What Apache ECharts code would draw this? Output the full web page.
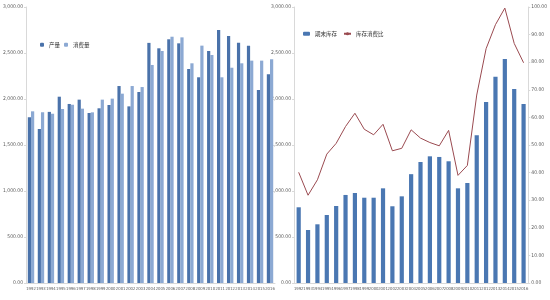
<!DOCTYPE html>
<html><head><meta charset="utf-8">
<script src="https://cdn.jsdelivr.net/npm/echarts@6/dist/echarts.min.js"></script>
<style>html,body{margin:0;padding:0;background:#fff}#c{width:550px;height:300px}</style>
</head><body><div id="c"></div>
<script>
var years = ['1992','1993','1994','1995','1996','1997','1998','1999','2000','2001','2002','2003','2004','2005','2006','2007','2008','2009','2010','2011','2012','2013','2014','2015','2016'];
var production = [1801,1674,1860,2025,1946,1993,1848,1899,1935,2141,1920,2076,2610,2551,2649,2605,2326,2236,2522,2750,2685,2612,2580,2098,2269];
var consumption = [1866,1857,1840,1891,1938,1895,1855,1993,2004,2058,2141,2130,2370,2522,2677,2670,2388,2580,2478,2236,2340,2388,2417,2417,2432];
var endingStock = [823,576,638,739,837,957,978,927,927,1029,834,942,1183,1315,1377,1370,1323,1029,1087,1605,1967,2243,2435,2109,1946];
var stockRatio = [40.1,31.8,37.4,46.7,50.6,56.7,61.5,55.7,53.7,57.5,47.9,48.8,55.5,52.5,50.9,49.7,55.3,39.0,42.6,68.1,84.9,93.6,99.6,86.8,79.8];
var leftNames = ['产量','消费量'];
var rightNames = ['期末库存','库存消费比'];

var chart = echarts.init(document.getElementById('c'), null, {renderer:'canvas'});
var fmt2 = function(v){ return v.toLocaleString('en-US',{minimumFractionDigits:2,maximumFractionDigits:2}); };
var narrow = '"Liberation Sans Narrow", "DejaVu Sans Condensed", "Liberation Sans"';
var axisLab = {fontSize:5, color:'#595959', fontFamily:narrow};
var xCommon = {
  type:'category', data:years,
  axisLine:{lineStyle:{color:'#d9d9d9',width:1}},
  axisTick:{show:false},
  axisLabel:{interval:0, fontSize:4.2, color:'#595959', margin:4, fontFamily:narrow}
};
chart.setOption({
  animation:false,
  legend:[
    {data:leftNames, left:35, top:37, itemWidth:4, itemHeight:4, itemGap:4,
     textStyle:{fontSize:5.5, color:'#333', fontFamily:'Noto Sans CJK SC'}},
    {data:rightNames, left:298, top:26, itemWidth:7, itemHeight:4, itemGap:6,
     textStyle:{fontSize:5.5, color:'#333', fontFamily:'Noto Sans CJK SC'}}
  ],
  grid:[
    {left:21, right:275, top:7, bottom:17},
    {left:294, right:13, top:7, bottom:17}
  ],
  xAxis:[
    Object.assign({gridIndex:0}, xCommon),
    Object.assign({gridIndex:1}, xCommon)
  ],
  yAxis:[
    {gridIndex:0, type:'value', min:0, max:3000, interval:500,
     axisLine:{show:true, lineStyle:{color:'#d9d9d9'}}, axisTick:{show:true,length:2,lineStyle:{color:'#d9d9d9'}},
     splitLine:{show:false}, axisLabel:Object.assign({margin:3, formatter:fmt2}, axisLab)},
    {gridIndex:1, type:'value', min:0, max:3000, interval:500,
     axisLine:{show:true, lineStyle:{color:'#d9d9d9'}}, axisTick:{show:true,length:2,lineStyle:{color:'#d9d9d9'}},
     splitLine:{show:false}, axisLabel:Object.assign({margin:3, formatter:fmt2}, axisLab)},
    {gridIndex:1, type:'value', position:'right', min:0, max:100, interval:10,
     axisLine:{show:true, lineStyle:{color:'#d9d9d9'}}, axisTick:{show:true,length:2,lineStyle:{color:'#d9d9d9'}},
     splitLine:{show:false}, axisLabel:Object.assign({margin:3, formatter:function(v){return v.toFixed(2);}}, axisLab)}
  ],
  series:[
    {name:leftNames[0], type:'bar', xAxisIndex:0, yAxisIndex:0, data:production, barWidth:3.2, barGap:'0%',
     itemStyle:{color:'#4a72aa'}},
    {name:leftNames[1], type:'bar', xAxisIndex:0, yAxisIndex:0, data:consumption, barWidth:3.2, barGap:'0%',
     itemStyle:{color:'#8ca9d3'}},
    {name:rightNames[0], type:'bar', xAxisIndex:1, yAxisIndex:1, data:endingStock, barWidth:4.2,
     itemStyle:{color:'#4a77b2'}},
    {name:rightNames[1], type:'line', xAxisIndex:1, yAxisIndex:2, data:stockRatio, symbol:'none',
     lineStyle:{color:'#9a4a50', width:1}, itemStyle:{color:'#9a4a50'}}
  ]
});
</script></body></html>
